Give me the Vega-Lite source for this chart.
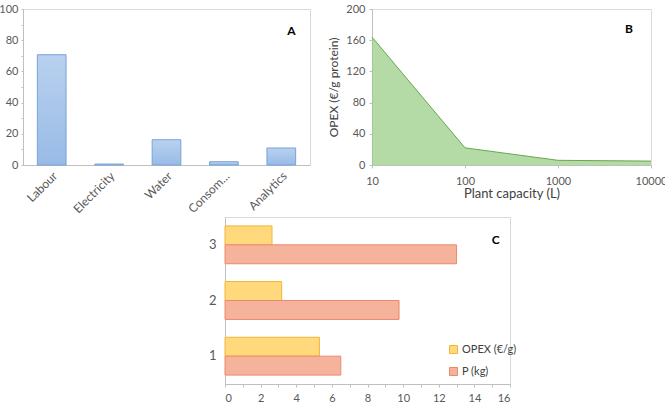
{
  "$schema": "https://vega.github.io/schema/vega-lite/v6.json",
  "padding": {"left": -2, "top": 2, "right": 0, "bottom": 0},
  "background": "white",
  "config": {
    "font": "Lato",
    "view": {"stroke": "#d9d9d9"},
    "axis": {
      "labelColor": "#595959",
      "labelFontSize": 11,
      "labelOverlap": false,
      "domainColor": "#bfbfbf",
      "tickColor": "#bfbfbf",
      "grid": false,
      "titleColor": "#404040",
      "titleFontWeight": "normal",
      "titleFontSize": 12
    },
    "legend": {
      "labelColor": "#404040",
      "labelFontSize": 11
    }
  },
  "spacing": 0,
  "vconcat": [
    {
      "bounds": "flush",
      "spacing": 62,
      "hconcat": [
        {
          "width": 287,
          "height": 156,
          "layer": [
            {
              "data": {"values": [
                {"item": "Labour", "pct": 70.7},
                {"item": "Electricity", "pct": 0.6},
                {"item": "Water", "pct": 16.2},
                {"item": "Consom…", "pct": 2.1},
                {"item": "Analytics", "pct": 10.9}
              ]},
              "mark": {
                "type": "bar",
                "color": {"gradient": "linear", "x1": 0, "y1": 0, "x2": 0, "y2": 1,
                  "stops": [{"offset": 0, "color": "#b9d1ef"}, {"offset": 1, "color": "#98bbe6"}]},
                "stroke": "#76a3db",
                "strokeWidth": 1
              },
              "encoding": {
                "x": {"field": "item", "type": "nominal", "sort": null,
                  "scale": {"paddingInner": 0.5, "paddingOuter": 0.25},
                  "axis": {"title": null, "labelAngle": -45, "labelFontSize": 12, "ticks": false, "labelPadding": 5}},
                "y": {"field": "pct", "type": "quantitative",
                  "scale": {"domain": [0, 100]},
                  "axis": {"title": null, "values": [0, 10, 20, 30, 40, 50, 60, 70, 80, 90, 100], "tickCount": 50, "format": "d",
                    "labelExpr": "datum.value % 20 === 0 ? datum.label : ''", "tickSize": 2, "labelPadding": 3}}
              }
            },
            {
              "data": {"values": [{"item": "Analytics", "pct": 86, "t": "A"}]},
              "mark": {"type": "text", "fontWeight": "bold", "fontSize": 12, "dx": 10, "color": "#000000"},
              "encoding": {
                "x": {"field": "item", "type": "nominal", "sort": null},
                "y": {"field": "pct", "type": "quantitative"},
                "text": {"field": "t"}
              }
            }
          ]
        },
        {
          "width": 279,
          "height": 156,
          "layer": [
            {
              "data": {"values": [
                {"cap": 10, "opex": 164},
                {"cap": 100, "opex": 22},
                {"cap": 1000, "opex": 6},
                {"cap": 10000, "opex": 5}
              ]},
              "mark": {"type": "area", "color": "#94cb7f", "line": {"color": "#6aa84f", "strokeWidth": 1}},
              "encoding": {
                "x": {"field": "cap", "type": "quantitative",
                  "scale": {"type": "log", "domain": [10, 10000]},
                  "axis": {"title": "Plant capacity (L)", "values": [10, 100, 1000, 10000], "tickCount": 50, "format": "d",
                    "labelFlush": false, "tickSize": 3, "labelPadding": 7, "titlePadding": 1, "titleFontSize": 13}},
                "y": {"field": "opex", "type": "quantitative",
                  "scale": {"domain": [0, 200]},
                  "axis": {"title": "OPEX (€/g protein)", "values": [0, 40, 80, 120, 160, 200], "tickCount": 50, "format": "d",
                    "tickSize": 3, "labelPadding": 4, "titlePadding": 5}}
              }
            },
            {
              "data": {"values": [{"cap": 5800, "opex": 174, "t": "B"}]},
              "mark": {"type": "text", "fontWeight": "bold", "fontSize": 12, "color": "#000000"},
              "encoding": {
                "x": {"field": "cap", "type": "quantitative"},
                "y": {"field": "opex", "type": "quantitative"},
                "text": {"field": "t"}
              }
            }
          ]
        }
      ]
    },
    {
      "bounds": "flush",
      "spacing": 62,
      "hconcat": [
        {
          "width": 140,
          "height": 167,
          "view": {"stroke": null},
          "data": {"values": [{"t": ""}]},
          "mark": {"type": "text"},
          "encoding": {"text": {"field": "t"}}
        },
        {
          "width": 285,
          "height": 167,
          "layer": [
            {
              "data": {"values": [
                {"cat": "1", "series": "OPEX (€/g)", "v": 5.3},
                {"cat": "1", "series": "P (kg)", "v": 6.5},
                {"cat": "2", "series": "OPEX (€/g)", "v": 3.18},
                {"cat": "2", "series": "P (kg)", "v": 9.77},
                {"cat": "3", "series": "OPEX (€/g)", "v": 2.64},
                {"cat": "3", "series": "P (kg)", "v": 13.0}
              ]},
              "mark": {"type": "bar", "strokeWidth": 1},
              "encoding": {
                "y": {"field": "cat", "type": "nominal", "sort": "descending",
                  "scale": {"paddingInner": 0.32, "paddingOuter": 0.16},
                  "axis": {"title": null, "labelFontSize": 13, "ticks": false, "labelPadding": 9}},
                "yOffset": {"field": "series", "type": "nominal", "sort": ["OPEX (€/g)", "P (kg)"],
                  "scale": {"paddingInner": 0, "paddingOuter": 0}},
                "x": {"field": "v", "type": "quantitative",
                  "scale": {"domain": [0, 16]},
                  "axis": {"title": null, "values": [0, 1, 2, 3, 4, 5, 6, 7, 8, 9, 10, 11, 12, 13, 14, 15, 16], "tickCount": 50, "format": "d",
                    "labelExpr": "datum.value % 2 === 0 ? datum.label : ''", "tickSize": 3, "labelPadding": 5}},
                "color": {"field": "series", "type": "nominal",
                  "scale": {"domain": ["OPEX (€/g)", "P (kg)"], "range": ["#ffd97c", "#f5b39b"]},
                  "legend": {"title": null, "orient": "none", "legendX": 425, "legendY": 335,
                    "symbolType": "square", "symbolSize": 64, "rowPadding": 9, "labelOffset": 3, "symbolStrokeWidth": 1}},
                "stroke": {"field": "series", "type": "nominal",
                  "scale": {"domain": ["OPEX (€/g)", "P (kg)"], "range": ["#f2b53a", "#e98a6b"]},
                  "legend": {"title": null, "orient": "none", "legendX": 425, "legendY": 335,
                    "symbolType": "square", "symbolSize": 64, "rowPadding": 9, "labelOffset": 3, "symbolStrokeWidth": 1}}
              }
            },
            {
              "data": {"values": [{"cat": "3", "v": 15.2, "t": "C"}]},
              "mark": {"type": "text", "fontWeight": "bold", "fontSize": 12, "dy": -5, "color": "#000000"},
              "encoding": {
                "y": {"field": "cat", "type": "nominal", "sort": "descending"},
                "x": {"field": "v", "type": "quantitative"},
                "text": {"field": "t"}
              }
            }
          ]
        }
      ]
    }
  ]
}
